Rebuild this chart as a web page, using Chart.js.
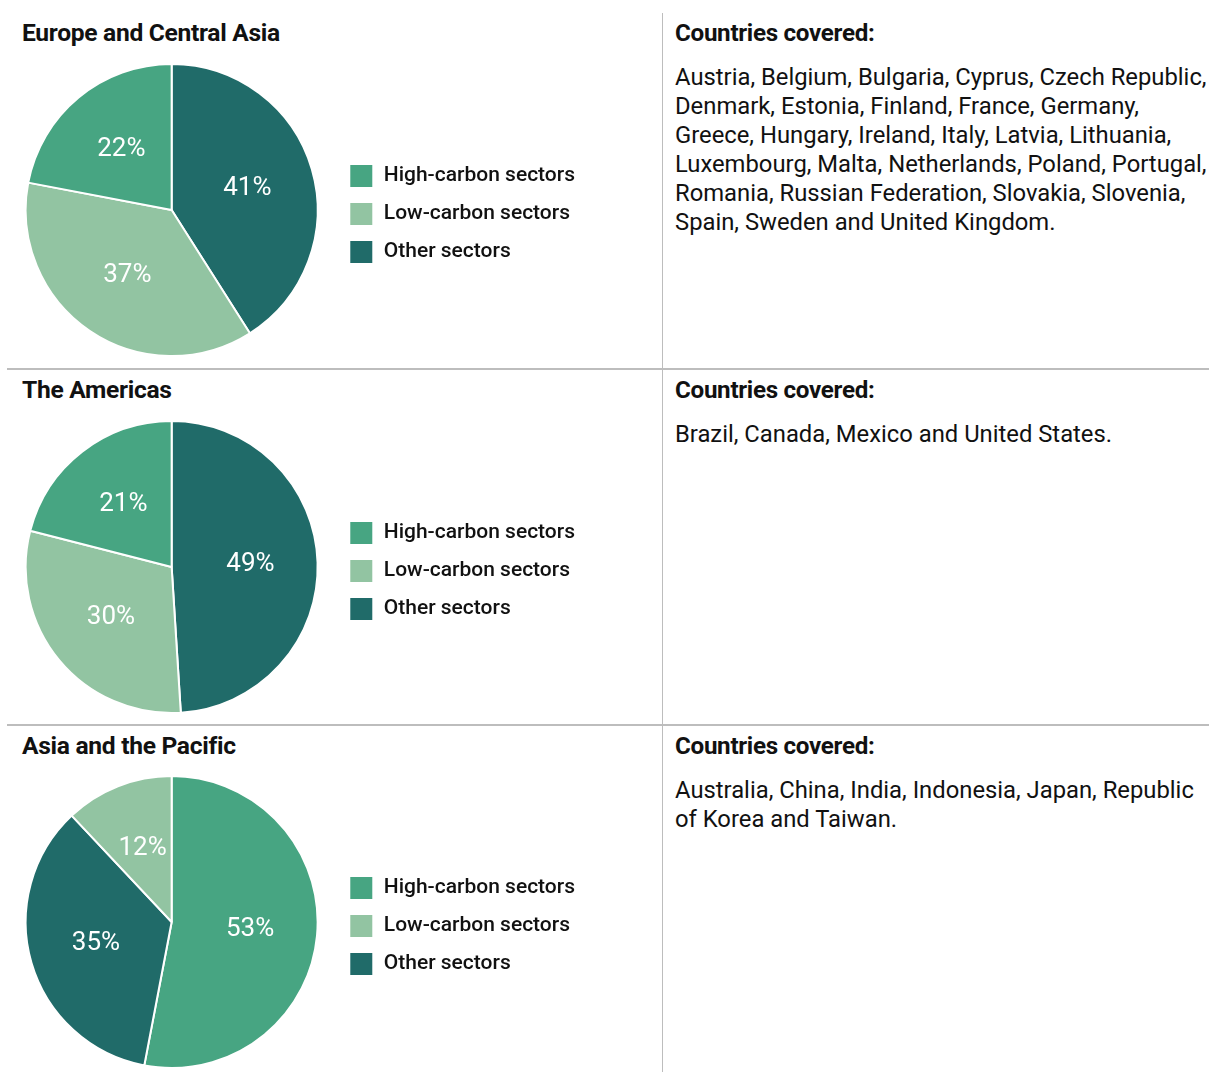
<!DOCTYPE html>
<html>
<head>
<meta charset="utf-8">
<script src="https://cdn.jsdelivr.net/npm/chart.js@4.4.0/dist/chart.umd.min.js"></script>
<style>
  body { margin: 0; background: #fff; font-family: Roboto, "Noto Sans", sans-serif; color: #111; }
  #page { position: relative; width: 1209px; height: 1072px; overflow: hidden; }
  .title { position: absolute; left: 22px; font-size: 24.6px; line-height: 28px; font-weight: 700; letter-spacing: -0.3px; white-space: nowrap; }
  .cov-title { position: absolute; left: 675px; font-size: 24.2px; line-height: 28px; font-weight: 700; letter-spacing: -0.3px; }
  .cov-text { position: absolute; left: 675px; width: 560px; font-size: 23.8px; line-height: 29px; white-space: nowrap; }
  .hline { position: absolute; left: 7px; right: 0; height: 2px; background: #bdbdbd; }
  .vline { position: absolute; left: 662px; top: 13px; bottom: 0; width: 1px; background: #bdbdbd; }
  .pie { position: absolute; left: 0; width: 585px; height: 294px; }
</style>
</head>
<body>
<div id="page">
  <div class="vline"></div>
  <div class="hline" style="top:368px"></div>
  <div class="hline" style="top:724px"></div>

  <div class="title" style="top:19px">Europe and Central Asia</div>
  <div class="cov-title" style="top:19px">Countries covered:</div>
  <div class="cov-text" style="top:63px">Austria, Belgium, Bulgaria, Cyprus, Czech Republic,<br>Denmark, Estonia, Finland, France, Germany,<br>Greece, Hungary, Ireland, Italy, Latvia, Lithuania,<br>Luxembourg, Malta, Netherlands, Poland, Portugal,<br>Romania, Russian Federation, Slovakia, Slovenia,<br>Spain, Sweden and United Kingdom.</div>
  <div class="pie" style="top:63px"><canvas id="pie1"></canvas></div>

  <div class="title" style="top:376px">The Americas</div>
  <div class="cov-title" style="top:376px">Countries covered:</div>
  <div class="cov-text" style="top:420px">Brazil, Canada, Mexico and United States.</div>
  <div class="pie" style="top:420px"><canvas id="pie2"></canvas></div>

  <div class="title" style="top:732px">Asia and the Pacific</div>
  <div class="cov-title" style="top:732px">Countries covered:</div>
  <div class="cov-text" style="top:776px">Australia, China, India, Indonesia, Japan, Republic<br>of Korea and Taiwan.</div>
  <div class="pie" style="top:775px"><canvas id="pie3"></canvas></div>
</div>
<script>
// legend order
const sectors = ['High-carbon sectors', 'Low-carbon sectors', 'Other sectors'];
const sectorColors = ['#47a582', '#92c4a2', '#206b69'];

// slice order (clockwise from 12 o'clock) and shares, per region
const europeOrder = ['Other sectors', 'Low-carbon sectors', 'High-carbon sectors'];
const europeValues = [41, 37, 22];
const americasOrder = ['Other sectors', 'Low-carbon sectors', 'High-carbon sectors'];
const americasValues = [49, 30, 21];
const asiaOrder = ['High-carbon sectors', 'Other sectors', 'Low-carbon sectors'];
const asiaValues = [53, 35, 12];

const sliceLabels = {
    id: 'sliceLabels',
    // nudge legend a bit lower than the pie centre
    afterLayout(chart) {
        chart.legend.top += 4;
        chart.legend.bottom += 4;
    },
    afterDatasetsDraw(chart) {
        const ctx = chart.ctx;
        const meta = chart.getDatasetMeta(0);
        ctx.save();
        ctx.fillStyle = '#fff';
        ctx.font = '26px Roboto';
        ctx.textAlign = 'center';
        ctx.textBaseline = 'middle';
        meta.data.forEach((arc, i) => {
            const p = arc.getProps(['x', 'y', 'startAngle', 'endAngle', 'outerRadius'], true);
            const mid = (p.startAngle + p.endAngle) / 2;
            const r = p.outerRadius * 0.54;
            ctx.fillText(chart.data.datasets[0].data[i] + '%', p.x + Math.cos(mid) * r, p.y + Math.sin(mid) * r);
        });
        ctx.restore();
    }
};

function makePie(id, order, values) {
    const ctx = document.getElementById(id).getContext('2d');
    return new Chart(ctx, {
        type: 'pie',
        data: {
            labels: order,
            datasets: [{
                data: values,
                backgroundColor: order.map(name => sectorColors[sectors.indexOf(name)]),
                borderColor: '#fff',
                borderWidth: 2
            }]
        },
        options: {
            responsive: true,
            maintainAspectRatio: false,
            animation: false,
            layout: { padding: { left: 8 } },
            plugins: {
                tooltip: { enabled: false },
                legend: {
                    position: 'right',
                    align: 'center',
                    labels: {
                        boxWidth: 24,
                        boxHeight: 24,
                        padding: 14,
                        color: '#111',
                        font: { family: 'Roboto', size: 21, weight: '500' },
                        sort: (a, b) => sectors.indexOf(a.text) - sectors.indexOf(b.text)
                    }
                }
            }
        },
        plugins: [sliceLabels]
    });
}

makePie('pie1', europeOrder, europeValues);
makePie('pie2', americasOrder, americasValues);
makePie('pie3', asiaOrder, asiaValues);
</script>
</body>
</html>
